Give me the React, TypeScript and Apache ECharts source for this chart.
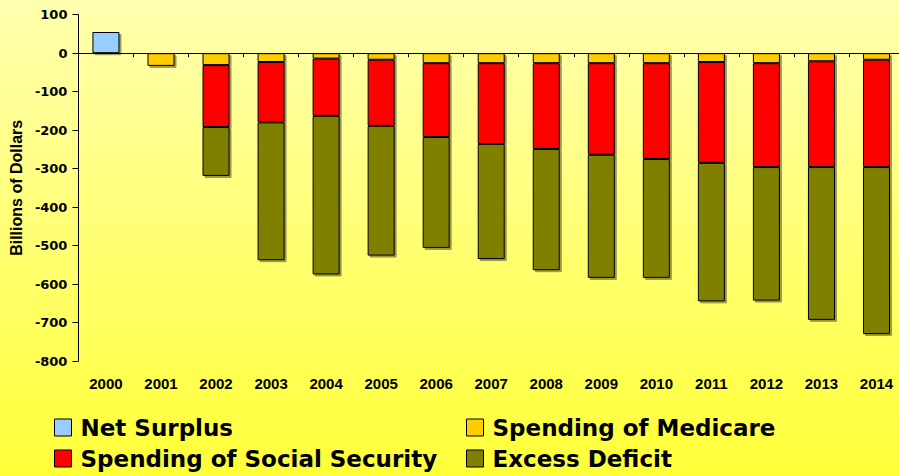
import React, { useEffect, useRef } from "react";
import * as echarts from "echarts";

const years = ["2000","2001","2002","2003","2004","2005","2006","2007","2008","2009","2010","2011","2012","2013","2014"];
const netSurplus = [55, "-", "-", "-", "-", "-", "-", "-", "-", "-", "-", "-", "-", "-", "-"];
const medicare = ["-", -33, -31, -23, -14, -17, -26, -26, -26, -26, -26, -23, -26, -21, -17];
const socialSecurity = ["-", 0, -161, -157, -149, -172, -192, -210, -223, -238, -249, -262, -270, -275, -279];
const excessDeficit = ["-", 0, -127, -358, -412, -337, -288, -299, -315, -320, -309, -360, -347, -397, -434];

const seriesNames = ["Net Surplus", "Spending of Medicare", "Spending of Social Security", "Excess Deficit"];
const seriesColors = ["#99CCFF", "#FFCC00", "#FF0000", "#808000"];
const seriesData = [netSurplus, medicare, socialSecurity, excessDeficit];

export default function App() {
  const ref = useRef<HTMLDivElement>(null);
  useEffect(() => {
    if (!ref.current) return;
    const chart = echarts.init(ref.current, null, { renderer: "svg" });
    const legendText = {
      fontFamily: "DejaVu Sans",
      fontWeight: "bold",
      fontSize: 23,
      color: "#000",
      padding: [0, 0, 0, 4],
    };
    const legendPos = [
      { left: 54, top: 416 },
      { left: 466, top: 416 },
      { left: 54, top: 447 },
      { left: 466, top: 447 },
    ];
    chart.setOption({
      animation: false,
      backgroundColor: {
        type: "linear",
        x: 0, y: 0, x2: 0, y2: 1,
        colorStops: [
          { offset: 0, color: "#FFFFB0" },
          { offset: 1, color: "#FFFF38" },
        ],
      },
      grid: { left: 78, right: 0, top: 14.7, bottom: 115 },
      legend: seriesNames.map((n, i) => ({
        data: [n],
        icon: "rect",
        left: legendPos[i].left,
        top: legendPos[i].top,
        itemWidth: 17,
        itemHeight: 17,
        padding: 0,
        selectedMode: false,
        textStyle: legendText,
        itemStyle: { borderColor: "#000", borderWidth: 1, shadowColor: "transparent", shadowOffsetX: 0, shadowOffsetY: 0 },
      })),
      xAxis: [
        {
          type: "category",
          data: years,
          position: "bottom",
          axisLine: { onZero: true, lineStyle: { color: "#000", width: 1 } },
          axisTick: { show: true, length: 4, lineStyle: { color: "#000" } },
          axisLabel: { show: false },
          splitLine: { show: false },
        },
        {
          type: "category",
          data: years,
          position: "bottom",
          axisLine: { show: false, onZero: false },
          axisTick: { show: false },
          axisLabel: {
            margin: 15,
            fontFamily: "Liberation Sans",
            fontWeight: "bold",
            fontSize: 15,
            color: "#000",
          },
        },
      ],
      yAxis: {
        type: "value",
        min: -800,
        max: 100,
        interval: 100,
        name: "Billions of Dollars",
        nameLocation: "middle",
        nameGap: 54,
        nameTextStyle: {
          fontFamily: "Liberation Sans",
          fontWeight: "bold",
          fontSize: 16,
          color: "#000",
        },
        axisLine: { show: true, lineStyle: { color: "#000", width: 1 } },
        axisTick: { show: true, length: 6, lineStyle: { color: "#000" } },
        axisLabel: {
          margin: 11,
          fontFamily: "DejaVu Sans",
          fontWeight: "bold",
          fontSize: 13,
          color: "#000",
        },
        splitLine: { show: false },
      },
      series: seriesNames.map((n, i) => ({
        name: n,
        type: "bar",
        stack: "total",
        xAxisIndex: 0,
        barWidth: 27,
        data: seriesData[i],
        itemStyle: {
          color: seriesColors[i],
          borderColor: "#000",
          borderWidth: 1,
          shadowColor: "rgba(0,0,0,0.4)",
          shadowOffsetX: 2,
          shadowOffsetY: 2,
          shadowBlur: 0,
        },
      })),
    });
    return () => chart.dispose();
  }, []);
  return (
    <div
      ref={ref}
      style={{ position: "fixed", left: 0, top: 0, width: 904, height: 476 }}
    />
  );
}
